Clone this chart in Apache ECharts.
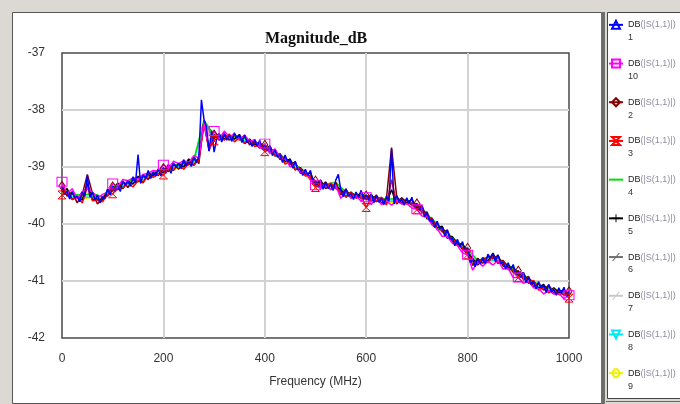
<!DOCTYPE html>
<html>
<head>
<meta charset="utf-8">
<script src="https://cdn.jsdelivr.net/npm/echarts@6/dist/echarts.min.js"></script>
<style>
  html, body { margin: 0; padding: 0; background: #dcd8d4; }
  #chart { width: 680px; height: 404px; }
</style>
</head>
<body>
<div id="chart"></div>
<script>
// ---- chart text ----
const chartTitle = 'Magnitude_dB';
const xAxisName = 'Frequency (MHz)';

// ---- axis ticks ----
const xTicks = [0, 200, 400, 600, 800, 1000];
const yTicks = [-42, -41, -40, -39, -38, -37];

// ---- legend order of the swept traces ----
const traceNames = ['1', '10', '2', '3', '4', '5', '6', '7', '8', '9'];

// ---- sweep step (MHz) of each trace ----
const sweepStep = { '1': 5, '10': 10, '2': 10, '3': 10, '5': 10, '4': 20, '6': 20, '7': 20, '8': 20, '9': 20 };

// trace 1, 0..1000 MHz every 5 MHz (dB)
const trace1 = [
  -39.35,-39.48,-39.43,-39.56,-39.43,-39.54,-39.51,-39.61,-39.44,-39.51,
  -39.15,-39.53,-39.44,-39.58,-39.49,-39.63,-39.52,-39.55,-39.38,-39.49,
  -39.33,-39.43,-39.33,-39.43,-39.25,-39.32,-39.24,-39.34,-39.17,-39.28,
  -38.78,-39.29,-39.14,-39.20,-39.06,-39.20,-39.09,-39.16,-39.03,-39.16,
  -39.01,-39.11,-39.01,-39.11,-38.93,-39.01,-38.93,-39.03,-38.87,-38.98,
  -38.91,-38.99,-38.84,-38.92,-38.81,-37.82,-38.16,-38.30,-38.72,-38.36,
  -38.74,-38.51,-38.41,-38.56,-38.42,-38.53,-38.44,-38.55,-38.40,-38.49,
  -38.44,-38.57,-38.44,-38.57,-38.54,-38.64,-38.52,-38.63,-38.53,-38.69,
  -38.62,-38.72,-38.63,-38.80,-38.70,-38.83,-38.78,-38.92,-38.79,-38.91,
  -38.88,-39.02,-38.90,-39.05,-39.04,-39.15,-39.04,-39.15,-39.06,-39.26,
  -39.25,-39.34,-39.23,-39.39,-39.27,-39.38,-39.31,-39.41,-39.23,-39.13,
  -39.41,-39.52,-39.38,-39.51,-39.47,-39.57,-39.44,-39.53,-39.41,-39.57,
  -39.49,-39.58,-39.48,-39.63,-39.50,-39.62,-39.55,-39.66,-39.51,-39.60,
  -38.68,-39.65,-39.50,-39.62,-39.57,-39.67,-39.54,-39.64,-39.53,-39.71,
  -39.65,-39.76,-39.68,-39.88,-39.80,-39.95,-39.91,-40.06,-39.95,-40.08,
  -40.06,-40.21,-40.10,-40.26,-40.25,-40.38,-40.27,-40.40,-40.31,-40.49,
  -40.43,-40.67,-40.61,-40.75,-40.61,-40.70,-40.60,-40.70,-40.53,-40.60,
  -40.53,-40.66,-40.54,-40.69,-40.67,-40.79,-40.68,-40.80,-40.71,-40.89,
  -40.83,-40.94,-40.85,-41.03,-40.93,-41.06,-41.01,-41.14,-41.01,-41.12,
  -41.08,-41.20,-41.06,-41.19,-41.15,-41.25,-41.12,-41.22,-41.11,-41.27,
  -41.19
];

// traces 10, 2, 3, 5: every 10 MHz (dB)
const trace10 = [
  -39.26,-39.47,-39.38,-39.56,-39.43,-39.37,-39.44,-39.54,-39.48,-39.44,
  -39.29,-39.34,-39.22,-39.24,-39.19,-39.21,-39.13,-39.11,-39.06,-39.08,
  -38.96,-39.02,-38.90,-38.94,-38.89,-38.92,-38.80,-38.84,-38.21,-38.68,
  -38.37,-38.51,-38.37,-38.47,-38.42,-38.53,-38.44,-38.55,-38.52,-38.66,
  -38.59,-38.76,-38.68,-38.84,-38.84,-39.00,-38.93,-39.09,-39.08,-39.23,
  -39.32,-39.38,-39.31,-39.39,-39.33,-39.55,-39.44,-39.55,-39.50,-39.60,
  -39.53,-39.66,-39.53,-39.66,-39.60,-39.67,-39.59,-39.65,-39.64,-39.72,
  -39.74,-39.86,-39.87,-40.02,-40.08,-40.22,-40.21,-40.34,-40.38,-40.51,
  -40.54,-40.81,-40.66,-40.74,-40.65,-40.72,-40.64,-40.79,-40.78,-40.94,
  -40.94,-41.04,-41.00,-41.12,-41.13,-41.23,-41.16,-41.23,-41.22,-41.31,
  -41.25
];
const trace2 = [
  -39.33,-39.51,-39.44,-39.63,-39.48,-39.13,-39.46,-39.65,-39.52,-39.51,
  -39.34,-39.40,-39.25,-39.36,-39.22,-39.26,-39.13,-39.22,-39.10,-39.15,
  -39.02,-39.08,-38.94,-39.04,-38.92,-38.96,-38.83,-38.94,-38.18,-38.72,
  -38.43,-38.53,-38.41,-38.53,-38.44,-38.52,-38.45,-38.61,-38.56,-38.67,
  -38.61,-38.75,-38.69,-38.87,-38.83,-38.96,-38.91,-39.11,-39.08,-39.20,
  -39.24,-39.35,-39.26,-39.40,-39.27,-39.49,-39.39,-39.54,-39.48,-39.55,
  -39.50,-39.60,-39.49,-39.64,-39.55,-38.66,-39.51,-39.64,-39.58,-39.67,
  -39.64,-39.80,-39.79,-40.00,-39.99,-40.14,-40.11,-40.32,-40.31,-40.45,
  -40.42,-40.73,-40.60,-40.69,-40.57,-40.61,-40.55,-40.74,-40.72,-40.85,
  -40.82,-40.97,-40.92,-41.10,-41.05,-41.16,-41.07,-41.22,-41.16,-41.25,
  -41.18
];
const trace3 = [
  -39.49,-39.46,-39.57,-39.52,-39.63,-39.35,-39.59,-39.58,-39.61,-39.48,
  -39.47,-39.36,-39.37,-39.27,-39.35,-39.24,-39.27,-39.15,-39.18,-39.12,
  -39.14,-39.04,-39.05,-38.96,-39.04,-38.94,-38.97,-38.87,-38.25,-38.68,
  -38.54,-38.46,-38.53,-38.42,-38.56,-38.48,-38.58,-38.52,-38.64,-38.62,
  -38.73,-38.68,-38.80,-38.76,-38.95,-38.91,-39.05,-39.02,-39.16,-39.15,
  -39.36,-39.27,-39.37,-39.28,-39.38,-39.44,-39.52,-39.45,-39.55,-39.50,
  -39.71,-39.53,-39.60,-39.53,-39.67,-39.22,-39.64,-39.56,-39.65,-39.63,
  -39.75,-39.74,-39.89,-39.90,-40.10,-40.10,-40.24,-40.24,-40.38,-40.41,
  -40.54,-40.66,-40.70,-40.59,-40.68,-40.57,-40.69,-40.65,-40.80,-40.80,
  -40.94,-40.90,-41.03,-40.99,-41.16,-41.11,-41.20,-41.14,-41.24,-41.21,
  -41.30
];
const trace5 = [
  -39.44,-39.38,-39.57,-39.52,-39.58,-39.29,-39.57,-39.56,-39.58,-39.40,
  -39.42,-39.28,-39.38,-39.25,-39.30,-39.16,-39.28,-39.11,-39.15,-39.05,
  -39.10,-38.96,-39.06,-38.94,-39.00,-38.86,-38.97,-38.84,-38.23,-38.67,
  -38.47,-38.43,-38.51,-38.45,-38.51,-38.43,-38.59,-38.51,-38.61,-38.57,
  -38.69,-38.63,-38.81,-38.77,-38.91,-38.86,-39.05,-39.01,-39.13,-39.10,
  -39.32,-39.23,-39.38,-39.30,-39.35,-39.39,-39.53,-39.44,-39.53,-39.45,
  -39.56,-39.48,-39.61,-39.54,-39.63,-39.40,-39.65,-39.54,-39.63,-39.57,
  -39.72,-39.68,-39.91,-39.90,-40.07,-40.04,-40.25,-40.22,-40.36,-40.35,
  -40.50,-40.61,-40.72,-40.59,-40.65,-40.51,-40.69,-40.64,-40.77,-40.75,
  -40.90,-40.85,-41.04,-41.00,-41.13,-41.06,-41.21,-41.12,-41.21,-41.15,
  -41.26
];

// traces 4, 6, 7, 8, 9: every 20 MHz (dB)
const trace4 = [
  -39.38,-39.47,-39.50,-39.46,-39.53,-39.35,-39.30,-39.22,-39.18,-39.09,
  -39.04,-38.97,-38.93,-38.87,-38.18,-38.44,-38.45,-38.46,-38.50,-38.56,
  -38.63,-38.73,-38.84,-38.96,-39.08,-39.26,-39.30,-39.27,-39.44,-39.48,
  -39.50,-39.53,-39.56,-39.56,-39.58,-39.66,-39.83,-40.00,-40.16,-40.31,
  -40.44,-40.64,-40.58,-40.60,-40.72,-40.84,-40.96,-41.06,-41.12,-41.16,
  -41.20
];
const trace6 = [
  -39.43,-39.54,-39.55,-39.53,-39.58,-39.41,-39.35,-39.28,-39.23,-39.15,
  -39.09,-39.03,-38.98,-38.93,-38.23,-38.48,-38.50,-38.50,-38.55,-38.61,
  -38.68,-38.78,-38.89,-39.01,-39.13,-39.31,-39.35,-39.33,-39.49,-39.53,
  -39.55,-39.58,-39.61,-39.61,-39.63,-39.71,-39.88,-40.05,-40.21,-40.36,
  -40.49,-40.70,-40.64,-40.66,-40.78,-40.90,-41.01,-41.11,-41.17,-41.21,
  -41.25
];
const trace7 = [
  -39.39,-39.49,-39.53,-39.49,-39.56,-39.37,-39.33,-39.24,-39.21,-39.11,
  -39.07,-38.99,-38.96,-38.89,-38.21,-38.46,-38.46,-38.48,-38.51,-38.59,
  -38.64,-38.76,-38.85,-38.99,-39.09,-39.29,-39.31,-39.31,-39.45,-39.51,
  -39.51,-39.56,-39.57,-39.59,-39.59,-39.69,-39.84,-40.03,-40.17,-40.34,
  -40.45,-40.67,-40.59,-40.63,-40.73,-40.87,-40.97,-41.09,-41.13,-41.19,
  -41.21
];
const trace8 = [
  -39.42,-39.52,-39.54,-39.52,-39.57,-39.40,-39.34,-39.27,-39.22,-39.14,
  -39.08,-39.02,-38.97,-38.92,-38.22,-38.47,-38.49,-38.49,-38.54,-38.60,
  -38.67,-38.77,-38.88,-39.00,-39.12,-39.30,-39.34,-39.32,-39.48,-39.52,
  -39.54,-39.57,-39.60,-39.60,-39.62,-39.70,-39.87,-40.04,-40.20,-40.35,
  -40.48,-40.69,-40.63,-40.65,-40.77,-40.89,-41.00,-41.10,-41.16,-41.20,
  -41.24
];
const trace9 = [
  -39.44,-39.53,-39.57,-39.53,-39.59,-39.42,-39.36,-39.29,-39.24,-39.16,
  -39.10,-39.04,-38.99,-38.94,-38.24,-38.49,-38.51,-38.51,-38.56,-38.62,
  -38.69,-38.79,-38.90,-39.02,-39.14,-39.32,-39.36,-39.34,-39.50,-39.54,
  -39.56,-39.59,-39.62,-39.62,-39.64,-39.72,-39.89,-40.06,-40.22,-40.37,
  -40.50,-40.71,-40.65,-40.67,-40.79,-40.91,-41.02,-41.12,-41.18,-41.22,
  -41.26
];

const traceValues = {
  '1': trace1, '10': trace10, '2': trace2, '3': trace3, '4': trace4,
  '5': trace5, '6': trace6, '7': trace7, '8': trace8, '9': trace9
};

// ---- marker shapes, colours and line widths per trace ----
const OUTLINE = 'outline', FILLED = 'filled', NOMARK = 'none';
const traceStyle = {
  '1':  { color: '#0000ff', width: 1.5, symbol: 'path://M5,0L10,9L0,9Z', size: [8, 7], kind: OUTLINE, plotMarks: false },
  '10': { color: '#ff00ff', width: 1.5, symbol: 'path://M0,0H10V10H0Z', size: [10, 9], kind: OUTLINE, plotMarks: true },
  '2':  { color: '#800000', width: 1.5, symbol: 'path://M5,0L10,8L5,16L0,8Z', size: [6, 9], kind: OUTLINE, plotMarks: true },
  '3':  { color: '#ff0000', width: 1.5, symbol: 'path://M0,0H10L5,5L10,10H0L5,5Z', size: [8, 8], kind: OUTLINE, plotMarks: true },
  '4':  { color: '#00e000', width: 1.5, symbol: 'circle', size: 4, kind: NOMARK, plotMarks: false },
  '5':  { color: '#000000', width: 1.5, symbol: 'path://M4.4,0H5.6V10H4.4Z M0,4.4H10V5.6H0Z', size: [9, 9], kind: FILLED, plotMarks: false },
  '6':  { color: '#707070', width: 1.2, symbol: 'path://M0,9L8,0H9.5L1.5,9Z', size: [6, 6], kind: FILLED, plotMarks: false },
  '7':  { color: '#c8c8c8', width: 1.2, symbol: 'path://M0,9L8,0H9.5L1.5,9Z', size: [6, 6], kind: FILLED, plotMarks: false },
  '8':  { color: '#00e8f0', width: 1.2, symbol: 'path://M0,0H10L5,9Z', size: [9, 7], kind: OUTLINE, plotMarks: false },
  '9':  { color: '#f0f000', width: 1.2, symbol: 'path://M0,4L4,0H8L12,4L8,8H4Z', size: [11, 8], kind: OUTLINE, plotMarks: false }
};
// markers every 100 MHz
const MARKER_EVERY = 100;

// later entries paint on top: trace 1 ends up uppermost
const drawOrder = ['7', '6', '9', '8', '4', '5', '2', '3', '10', '1'];

function buildSeries(name) {
  const st = traceStyle[name];
  const step = sweepStep[name];
  const data = traceValues[name].map(function (v, i) {
    const f = i * step;
    const item = { value: [f, v] };
    if (st.kind === NOMARK || !st.plotMarks || f % MARKER_EVERY !== 0) item.symbol = 'none';
    return item;
  });
  let itemStyle;
  if (st.kind === OUTLINE) {
    itemStyle = { color: 'rgba(255,255,255,0)', borderColor: st.color, borderWidth: 1 };
  } else if (st.kind === FILLED) {
    itemStyle = { color: st.color, borderWidth: 0 };
  } else {
    itemStyle = { color: st.color, opacity: 0 };
  }
  return {
    type: 'line',
    name: name,
    data: data,
    symbol: st.symbol,
    symbolSize: st.size,
    showSymbol: true,
    showAllSymbol: true,
    animation: false,
    silent: true,
    clip: true,
    lineStyle: { color: st.color, width: st.width },
    itemStyle: itemStyle,
    emphasis: { disabled: true }
  };
}

const chart = echarts.init(document.getElementById('chart'), null, { renderer: 'canvas' });

chart.setOption({
  animation: false,
  backgroundColor: '#dcd8d4',
  graphic: [
    // plot panel
    { type: 'rect', z: -1, shape: { x: 12.5, y: 12.5, width: 589, height: 391 },
      style: { fill: '#ffffff', stroke: '#555555', lineWidth: 1 } },
    { type: 'rect', z: -1, shape: { x: 601, y: 12, width: 4, height: 392 },
      style: { fill: '#6e6e6e' } },
    // legend panel
    { type: 'rect', z: -1, shape: { x: 607.5, y: 12.5, width: 80, height: 386 },
      style: { fill: '#ffffff', stroke: '#444444', lineWidth: 1 } },
    { type: 'line', z: -1, shape: { x1: 606, y1: 401.5, x2: 680, y2: 401.5 },
      style: { stroke: '#666666', lineWidth: 1 } }
  ],
  title: {
    text: chartTitle,
    left: 265,
    top: 31,
    padding: 0,
    textStyle: { fontFamily: 'Liberation Serif', fontWeight: 'bold', fontSize: 16, color: '#111111' }
  },
  legend: {
    orient: 'vertical',
    left: 608,
    top: 5.5,
    padding: 0,
    itemGap: 0,
    itemWidth: 14,
    itemHeight: 10,
    selectedMode: false,
    data: traceNames,
    formatter: function (n) { return '\n{a|DB}{b|(|S(1,1)|)}\n{n|' + n + '}'; },
    textStyle: {
      fontFamily: 'Liberation Sans', fontSize: 9, lineHeight: 12.9, color: '#333333',
      rich: {
        a: { fontFamily: 'Liberation Sans', fontSize: 9, lineHeight: 12.9, color: '#222222' },
        b: { fontFamily: 'Liberation Sans', fontSize: 9, lineHeight: 12.9, color: '#8c8ca0' },
        n: { fontFamily: 'Liberation Sans', fontSize: 9, lineHeight: 12.9, color: '#333333' }
      }
    }
  },
  grid: {
    left: 62, top: 53, right: 111, bottom: 66,
    show: true, borderColor: '#4a4a4a', borderWidth: 1.5, backgroundColor: 'rgba(0,0,0,0)'
  },
  xAxis: {
    type: 'value',
    min: xTicks[0], max: xTicks[xTicks.length - 1], interval: xTicks[1] - xTicks[0],
    name: xAxisName, nameLocation: 'middle', nameGap: 38,
    nameTextStyle: { fontFamily: 'Liberation Sans', fontSize: 12, color: '#333333' },
    axisLine: { show: false }, axisTick: { show: false },
    axisLabel: { fontFamily: 'Liberation Sans', fontSize: 12, color: '#333333', margin: 15,
                 formatter: function (v) { return String(v); } },
    splitLine: { show: true, showMinLine: false, showMaxLine: false, lineStyle: { color: '#d2d2d2', width: 2 } }
  },
  yAxis: {
    type: 'value',
    min: yTicks[0], max: yTicks[yTicks.length - 1], interval: yTicks[1] - yTicks[0],
    axisLine: { show: false }, axisTick: { show: false },
    axisLabel: { fontFamily: 'Liberation Sans', fontSize: 12, color: '#333333', margin: 17 },
    splitLine: { show: true, showMinLine: false, showMaxLine: false, lineStyle: { color: '#d2d2d2', width: 2 } }
  },
  series: drawOrder.map(buildSeries)
});
</script>
</body>
</html>
